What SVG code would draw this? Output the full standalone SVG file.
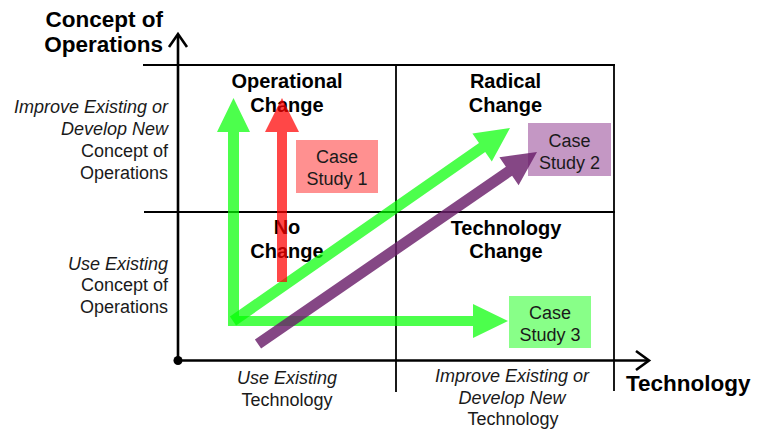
<svg xmlns="http://www.w3.org/2000/svg" width="760" height="431" viewBox="0 0 760 431">
<style>
.t{font-family:"Liberation Sans",Arial,sans-serif;fill:#1a1a1a}
.b{font-family:"Liberation Sans",Arial,sans-serif;font-weight:bold;fill:#000}
.lab{font-size:18px}
.i{font-style:italic}
.grid{stroke:#000;stroke-width:1.8;fill:none}
.axis{stroke:#000;stroke-width:2.6;fill:none}
.g{fill:#00FF00;fill-opacity:0.7}
.r{fill:#FF0000;fill-opacity:0.72}
.p{fill:#6A1F6A;fill-opacity:0.82}
</style>
<rect width="760" height="431" fill="#fff"/>
<g id="grid">
<line class="grid" x1="143" y1="65" x2="615" y2="65"/>
<line class="grid" x1="144" y1="212" x2="615" y2="212"/>
<line class="grid" x1="396" y1="65" x2="396" y2="392"/>
<line class="grid" x1="614" y1="65" x2="614" y2="391"/>
</g>
<g id="axes">
<line class="axis" x1="178" y1="361" x2="178" y2="35"/>
<polyline class="axis" points="169,47 178,34 187,47"/>
<line class="axis" x1="178" y1="360.5" x2="647" y2="360.5"/>
<polyline class="axis" points="636,351 649,360.5 636,370"/>
<circle cx="178" cy="360.5" r="4.5" fill="#000"/>
</g>
<g id="axis-labels">
<text class="b" font-size="22.5" text-anchor="end" x="163" y="27">Concept of</text>
<text class="b" font-size="22.5" text-anchor="end" x="163" y="52">Operations</text>
<text class="b" font-size="22.5" x="626" y="391">Technology</text>
<text class="t lab i" text-anchor="end" x="168" y="113">Improve Existing or</text>
<text class="t lab i" text-anchor="end" x="168" y="135">Develop New</text>
<text class="t lab" text-anchor="end" x="168" y="157">Concept of</text>
<text class="t lab" text-anchor="end" x="168" y="178.5">Operations</text>
<text class="t lab i" text-anchor="end" x="168" y="269.5">Use Existing</text>
<text class="t lab" text-anchor="end" x="168" y="291">Concept of</text>
<text class="t lab" text-anchor="end" x="168" y="312.5">Operations</text>
<text class="t lab i" text-anchor="middle" x="287" y="384">Use Existing</text>
<text class="t lab" text-anchor="middle" x="287" y="406">Technology</text>
<text class="t lab i" text-anchor="middle" x="512" y="382">Improve Existing or</text>
<text class="t lab i" text-anchor="middle" x="512" y="403.5">Develop New</text>
<text class="t lab" text-anchor="middle" x="513" y="425">Technology</text>
</g>
<g id="quadrant-titles">
<text class="b" font-size="20" text-anchor="middle" x="287" y="88">Operational</text>
<text class="b" font-size="20" text-anchor="middle" x="287" y="112">Change</text>
<text class="b" font-size="20" text-anchor="middle" x="505.5" y="88">Radical</text>
<text class="b" font-size="20" text-anchor="middle" x="505.5" y="112">Change</text>
<text class="b" font-size="20" text-anchor="middle" x="287" y="234">No</text>
<text class="b" font-size="20" text-anchor="middle" x="287" y="258">Change</text>
<text class="b" font-size="20" text-anchor="middle" x="506" y="235">Technology</text>
<text class="b" font-size="20" text-anchor="middle" x="506" y="258">Change</text>
</g>
<g id="case-study-1">
<rect x="296" y="140" width="82" height="53" fill="#FF9090"/>
<text class="t lab" text-anchor="middle" x="337" y="163">Case</text>
<text class="t lab" text-anchor="middle" x="337" y="185">Study 1</text>
</g>
<g id="case-study-2">
<rect x="528" y="123" width="83" height="53" fill="#C497C4"/>
<text class="t lab" text-anchor="middle" x="569.5" y="147">Case</text>
<text class="t lab" text-anchor="middle" x="569.5" y="168.5">Study 2</text>
</g>
<g id="case-study-3">
<rect x="509" y="296" width="82" height="52" fill="#88FF88"/>
<text class="t lab" text-anchor="middle" x="550" y="319">Case</text>
<text class="t lab" text-anchor="middle" x="550" y="341">Study 3</text>
</g>
<g id="connectors">
<polygon class="g" points="228,326 228,132 217,132 233.5,98 250,132 239,132 239,326"/>
<polygon class="g" points="239,316 473,316 473,304 508,321 473,338 473,326 239,326"/>
<polygon class="g" points="229.9,316.5 479,142.9 472.4,133.4 510,128 491.8,161.4 485.2,151.9 236.1,325.5"/>
<polygon class="r" points="277,282 277,132 265,132 282,98 299,132 287,132 287,282"/>
<polygon class="p" points="254.9,339.5 505.9,166.8 499.4,157.3 537,152 518.6,185.3 512.1,175.8 261.1,348.5"/>
</g>
</svg>
